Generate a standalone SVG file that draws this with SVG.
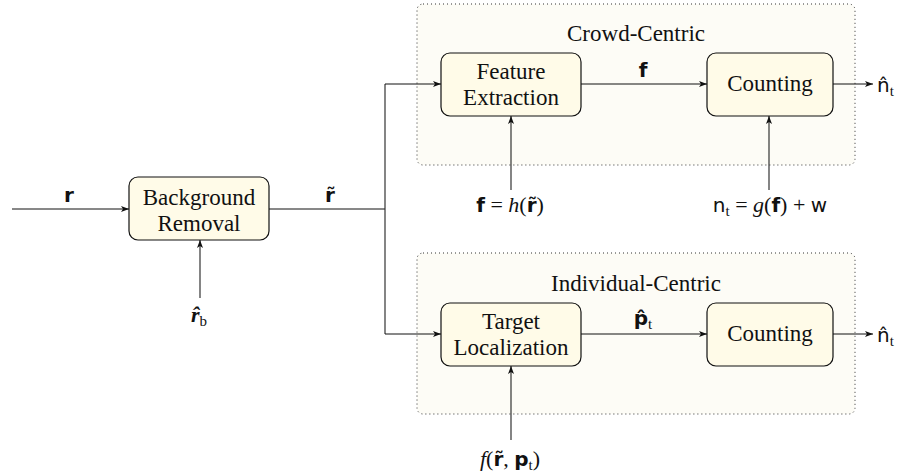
<svg xmlns="http://www.w3.org/2000/svg" width="904" height="476" viewBox="0 0 904 476">
<style>
.grp{fill:#fdfcf6;stroke:#333;stroke-width:1;stroke-dasharray:1 3;}
.box{fill:#fffbe8;stroke:#111;stroke-width:1.2;}
.lbl{font-family:"Liberation Serif","DejaVu Serif",serif;font-size:23px;fill:#111;text-anchor:middle;}
.m{font-family:"DejaVu Sans","Liberation Sans",sans-serif;font-size:20px;fill:#111;}
.mb{font-family:"DejaVu Sans","Liberation Sans",sans-serif;font-size:20px;font-weight:bold;fill:#111;}
.mi{font-family:"Liberation Serif","DejaVu Serif",serif;font-size:22px;font-style:italic;fill:#111;}
.mr{font-family:"Liberation Serif","DejaVu Serif",serif;font-size:22px;fill:#111;}
.sub{font-family:"Liberation Serif","DejaVu Serif",serif;font-size:15px;fill:#111;}
.c{fill:none;stroke:#111;stroke-width:1;}
.cv{fill:none;stroke:#333;stroke-width:1.2;}
</style>
<defs>
<marker id="ah" markerUnits="userSpaceOnUse" markerWidth="10" markerHeight="8" refX="9" refY="4" orient="auto">
<path d="M1,1 L9,4 L1,7 L3,4 z" fill="#111"/>
</marker>
</defs>

<g id="crowd-centric">
<rect class="grp" x="417" y="4" width="438" height="161" rx="6"/>
<text class="lbl" x="636" y="41">Crowd-Centric</text>
</g>
<g id="individual-centric">
<rect class="grp" x="417" y="253" width="438" height="161" rx="6"/>
<text class="lbl" x="636" y="291">Individual-Centric</text>
</g>

<g id="connectors">
<path class="c" d="M12,209 H129" marker-end="url(#ah)"/>
<path class="c" d="M269,209 H385"/>
<path class="cv" d="M385,84 V334"/>
<path class="c" d="M385,84 H441" marker-end="url(#ah)"/>
<path class="c" d="M385,334 H441" marker-end="url(#ah)"/>
<path class="c" d="M581,84 H707" marker-end="url(#ah)"/>
<path class="c" d="M833,84 H873" marker-end="url(#ah)"/>
<path class="c" d="M581,334 H707" marker-end="url(#ah)"/>
<path class="c" d="M833,334 H873" marker-end="url(#ah)"/>
<path class="cv" d="M200,298 V240" marker-end="url(#ah)"/>
<path class="cv" d="M511,190 V116" marker-end="url(#ah)"/>
<path class="cv" d="M769,190 V116" marker-end="url(#ah)"/>
<path class="cv" d="M511,440 V366" marker-end="url(#ah)"/>
</g>

<g id="background-removal">
<rect class="box" x="129" y="177" width="140" height="63" rx="9"/>
<text class="lbl" x="199" y="205">Background</text>
<text class="lbl" x="199" y="231">Removal</text>
</g>
<g id="feature-extraction">
<rect class="box" x="441" y="53" width="140" height="63" rx="9"/>
<text class="lbl" x="511" y="79">Feature</text>
<text class="lbl" x="511" y="105">Extraction</text>
</g>
<g id="counting-crowd">
<rect class="box" x="707" y="53" width="126" height="63" rx="9"/>
<text class="lbl" x="770" y="91">Counting</text>
</g>
<g id="target-localization">
<rect class="box" x="441" y="303" width="140" height="63" rx="9"/>
<text class="lbl" x="511" y="329">Target</text>
<text class="lbl" x="511" y="355">Localization</text>
</g>
<g id="counting-individual">
<rect class="box" x="707" y="303" width="126" height="63" rx="9"/>
<text class="lbl" x="770" y="341">Counting</text>
</g>

<g id="labels">
<text class="mb" x="69" y="202" text-anchor="middle">r</text>
<text class="mb" x="330" y="202" text-anchor="middle">r̃</text>
<text x="199" y="322" text-anchor="middle"><tspan class="mi" font-weight="bold">r̂</tspan><tspan class="sub" dy="4">b</tspan></text>
<text class="mb" x="643" y="77" text-anchor="middle">f</text>
<text x="643" y="325" text-anchor="middle"><tspan class="mb">p̂</tspan><tspan class="sub" dy="4">t</tspan></text>
<text x="877" y="92"><tspan class="m">n̂</tspan><tspan class="sub" dy="4">t</tspan></text>
<text x="877" y="342"><tspan class="m">n̂</tspan><tspan class="sub" dy="4">t</tspan></text>
<text x="510" y="212" text-anchor="middle"><tspan class="mb">f</tspan><tspan class="mr"> = </tspan><tspan class="mi">h</tspan><tspan class="mr">(</tspan><tspan class="mb">r̃</tspan><tspan class="mr">)</tspan></text>
<text x="770" y="212" text-anchor="middle"><tspan class="m">n</tspan><tspan class="sub" dy="4">t</tspan><tspan class="mr" dy="-4"> = </tspan><tspan class="mi">g</tspan><tspan class="mr">(</tspan><tspan class="mb">f</tspan><tspan class="mr">) + </tspan><tspan class="m">w</tspan></text>
<text x="510" y="466" text-anchor="middle"><tspan class="mi">f</tspan><tspan class="mr">(</tspan><tspan class="mb">r̃</tspan><tspan class="mr">, </tspan><tspan class="mb">p</tspan><tspan class="sub" dy="4">t</tspan><tspan class="mr" dy="-4">)</tspan></text>
</g>
</svg>
